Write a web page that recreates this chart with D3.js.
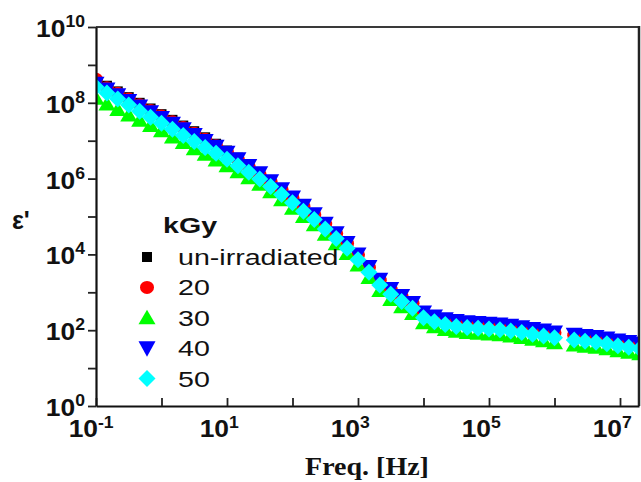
<!DOCTYPE html>
<html>
<head>
<meta charset="utf-8">
<script src="https://cdn.jsdelivr.net/npm/d3@7"></script>
<style>
  html, body { margin: 0; padding: 0; background: #fff; }
  svg { display: block; }
</style>
</head>
<body>
<svg id="chart" width="641" height="482"></svg>
<script>
// Frequency points (Hz)
const freq = [
  0.1, 0.147, 0.215, 0.316, 0.464, 0.681,
  1, 1.47, 2.15, 3.16, 4.64, 6.81,
  10, 14.7, 21.5, 31.6, 46.4, 68.1,
  100, 147, 215, 316, 464, 681,
  1000, 1470, 2150, 3160, 4640, 6810,
  1e4, 14700, 21500, 31600, 46400, 68100,
  1e5, 147000, 215000, 316000, 464000, 681000,
  1e6,
  2.0e6, 2.93e6, 4.3e6, 6.31e6, 9.27e6, 1.36e7, 2.0e7
];

// Real permittivity for each dose
const unIrradiated = [
  3.98e8, 2.82e8, 2.00e8, 1.41e8, 1.00e8, 7.08e7,
  5.01e7, 3.55e7, 2.51e7, 1.78e7, 1.23e7, 8.32e6,
  5.50e6, 3.55e6, 2.24e6, 1.38e6, 8.51e5, 5.25e5,
  3.16e5, 1.91e5, 1.15e5, 6.46e4, 3.63e4, 2.00e4,
  1.00e4, 4.68e3, 2.14e3, 1230, 794, 525,
  295, 229, 195, 174, 162, 155,
  148, 141, 132, 120, 107, 97.7,
  87.1,
  75.9, 70.8, 66.1, 60.3, 53.7, 49.0, 44.7
];
const dose20 = [
  4.17e8, 2.51e8, 1.78e8, 1.26e8, 8.91e7, 6.31e7,
  4.47e7, 3.16e7, 2.24e7, 1.58e7, 1.10e7, 7.41e6,
  4.90e6, 3.16e6, 2.00e6, 1.26e6, 8.32e5, 5.13e5,
  3.09e5, 1.86e5, 1.12e5, 6.31e4, 3.55e4, 1.95e4,
  9.77e3, 4.57e3, 2.09e3, 1200, 776, 513,
  288, 224, 191, 170, 158, 151,
  145, 138, 129, 117, 105, 95.5,
  85.1,
  74.1, 69.2, 64.6, 58.9, 52.5, 47.9, 43.7
];
const dose30 = [
  1.32e8, 9.33e7, 6.61e7, 4.79e7, 3.47e7, 2.51e7,
  1.82e7, 1.26e7, 8.91e6, 6.17e6, 4.37e6, 3.09e6,
  2.19e6, 1.51e6, 1.05e6, 7.08e5, 4.47e5, 2.75e5,
  1.66e5, 1.00e5, 6.03e4, 3.39e4, 1.91e4, 1.05e4,
  5.25e3, 2.45e3, 1120, 646, 417, 275,
  158, 123, 105, 93.3, 87.1, 83.2,
  79.4, 75.9, 70.8, 64.6, 57.5, 52.5,
  46.8,
  40.7, 38.0, 35.5, 32.4, 28.8, 26.3, 24.0
];
const dose40 = [
  3.16e8, 2.24e8, 1.58e8, 1.12e8, 7.94e7, 5.62e7,
  3.98e7, 2.82e7, 2.00e7, 1.41e7, 9.77e6, 6.92e6,
  4.79e6, 3.24e6, 2.14e6, 1.38e6, 8.51e5, 5.25e5,
  3.16e5, 1.91e5, 1.15e5, 6.46e4, 3.63e4, 2.00e4,
  1.00e4, 4.68e3, 2.14e3, 1230, 794, 525,
  295, 229, 195, 174, 162, 155,
  148, 141, 132, 120, 107, 97.7,
  87.1,
  75.9, 70.8, 66.1, 60.3, 53.7, 49.0, 44.7
];
const dose50 = [
  2.63e8, 1.82e8, 1.26e8, 8.71e7, 6.03e7, 4.17e7,
  2.88e7, 2.00e7, 1.38e7, 9.55e6, 6.61e6, 4.68e6,
  3.24e6, 2.19e6, 1.48e6, 9.77e5, 6.17e5, 3.80e5,
  2.29e5, 1.38e5, 8.32e4, 4.68e4, 2.63e4, 1.45e4,
  7.24e3, 3.39e3, 1.55e3, 891, 575, 380,
  214, 166, 141, 126, 117, 112,
  107, 102, 95.5, 87.1, 77.6, 70.8,
  63.1,
  55.0, 51.3, 47.9, 43.7, 38.9, 35.5, 32.4
];

const seriesNames = ["un-irradiated", "20", "30", "40", "50"];
const seriesValues = [unIrradiated, dose20, dose30, dose40, dose50];
const seriesColors = ["#000000", "#ff0000", "#00ff00", "#0000ff", "#00ffff"];
const seriesShapes = ["square", "circle", "triangleUp", "triangleDown", "diamond"];

const xTicks = [0.1, 1, 10, 100, 1e3, 1e4, 1e5, 1e6, 1e7];
const xTickLabels = [0.1, 10, 1e3, 1e5, 1e7];
const yTicks = [1, 10, 100, 1e3, 1e4, 1e5, 1e6, 1e7, 1e8, 1e9, 1e10];
const yTickLabels = [1, 100, 1e4, 1e6, 1e8, 1e10];

const legendTitle = "kGy";
const xTitle = "Freq. [Hz]";
const yTitle = "ε'";

// Layout
const plot = { left: 96, right: 639, top: 27, bottom: 406 };

const x = d3.scaleLog().domain([0.1, 1.95e7]).range([plot.left, plot.right]);
const y = d3.scaleLog().domain([1, 1e10]).range([plot.bottom, plot.top]);

const svg = d3.select("#chart");

// Marker shapes
function markerPath(shape) {
  switch (shape) {
    case "square": return "M-5,-5H5V5H-5Z";
    case "circle": return "M-7,0A7,6.5 0 1,0 7,0A7,6.5 0 1,0 -7,0Z";
    case "triangleUp": return "M0,-8L8.5,6.5L-8.5,6.5Z";
    case "triangleDown": return "M-8.5,-7L8.5,-7L0,8.5Z";
    case "diamond": return "M0,-8.5L8.5,0L0,8.5L-8.5,0Z";
  }
}

svg.append("defs").append("clipPath").attr("id", "plotClip")
  .append("rect")
  .attr("x", plot.left).attr("y", plot.top)
  .attr("width", plot.right - plot.left).attr("height", plot.bottom - plot.top);

// Data markers
const dataLayer = svg.append("g").attr("clip-path", "url(#plotClip)");
seriesValues.forEach((vals, si) => {
  dataLayer.append("g")
    .selectAll("path")
    .data(freq.map((f, i) => [f, vals[i]]))
    .join("path")
    .attr("d", markerPath(seriesShapes[si]))
    .attr("transform", d => `translate(${x(d[0])},${y(d[1])})`)
    .attr("fill", seriesColors[si]);
});

// Frame: top and right borders
svg.append("line")
  .attr("x1", plot.left).attr("x2", plot.right)
  .attr("y1", plot.top).attr("y2", plot.top)
  .attr("stroke", "#3a3a3a").attr("stroke-width", 2);
svg.append("line")
  .attr("x1", plot.right).attr("x2", plot.right)
  .attr("y1", plot.top - 1).attr("y2", plot.bottom)
  .attr("stroke", "#222").attr("stroke-width", 2.5);

// Axes
const xAxis = svg.append("g")
  .attr("transform", `translate(0,${plot.bottom})`)
  .call(d3.axisBottom(x).tickValues(xTicks).tickSize(-8).tickSizeOuter(0).tickFormat(""));
const yAxis = svg.append("g")
  .attr("transform", `translate(${plot.left},0)`)
  .call(d3.axisLeft(y).tickValues(yTicks).tickSize(8).tickSizeOuter(0).tickFormat(""));
[xAxis, yAxis].forEach(g => {
  g.select(".domain").attr("stroke", "#111").attr("stroke-width", 2.2);
  g.selectAll(".tick line").attr("stroke", "#222").attr("stroke-width", 1.8);
});

const labelFont = "'Liberation Sans', Arial, sans-serif";

// Y tick labels: 10 with superscript exponent
yTickLabels.forEach(v => {
  const ty = y(v);
  const t = svg.append("text")
    .attr("transform", `translate(85,${ty + 10}) scale(1.1,1)`)
    .attr("text-anchor", "end")
    .attr("font-family", labelFont)
    .attr("font-weight", "bold")
    .attr("font-size", 24)
    .attr("fill", "#111");
  t.append("tspan").text("10");
  t.append("tspan").attr("dy", -10).attr("font-size", 16).text(Math.round(Math.log10(v)));
});

// X tick labels
xTickLabels.forEach(v => {
  const tx = x(v) + 2;
  svg.append("text")
    .attr("transform", `translate(${tx},437) scale(1.1,1)`)
    .attr("text-anchor", "end")
    .attr("font-family", labelFont)
    .attr("font-weight", "bold")
    .attr("font-size", 24)
    .attr("fill", "#111")
    .text("10");
  svg.append("text")
    .attr("transform", `translate(${tx},428) scale(1.1,1)`)
    .attr("text-anchor", "start")
    .attr("font-family", labelFont)
    .attr("font-weight", "bold")
    .attr("font-size", 16)
    .attr("fill", "#111")
    .text(Math.round(Math.log10(v)));
});

// Axis titles
svg.append("text")
  .attr("transform", "translate(12,229)")
  .attr("font-family", labelFont)
  .attr("font-weight", "bold")
  .attr("font-size", 25)
  .attr("fill", "#111")
  .text(yTitle);

svg.append("text")
  .attr("transform", "translate(367,475) scale(1.12,1)")
  .attr("text-anchor", "middle")
  .attr("font-family", "'Liberation Serif', 'Times New Roman', serif")
  .attr("font-weight", "bold")
  .attr("font-size", 25)
  .attr("fill", "#111")
  .text(xTitle);

// Legend
const legend = svg.append("g");
legend.append("text")
  .attr("transform", "translate(163,233) scale(1.3,1)")
  .attr("font-family", labelFont)
  .attr("font-weight", "bold")
  .attr("font-size", 22)
  .attr("fill", "#111")
  .text(legendTitle);

seriesNames.forEach((name, i) => {
  const cy = 257 + i * 30.4;
  legend.append("path")
    .attr("d", markerPath(seriesShapes[i]))
    .attr("transform", `translate(147,${cy})`)
    .attr("fill", seriesColors[i]);
  legend.append("text")
    .attr("transform", `translate(178,${cy + 8}) scale(1.3,1)`)
    .attr("font-family", labelFont)
    .attr("font-size", 22)
    .attr("fill", "#111")
    .text(name);
});
</script>
</body>
</html>
